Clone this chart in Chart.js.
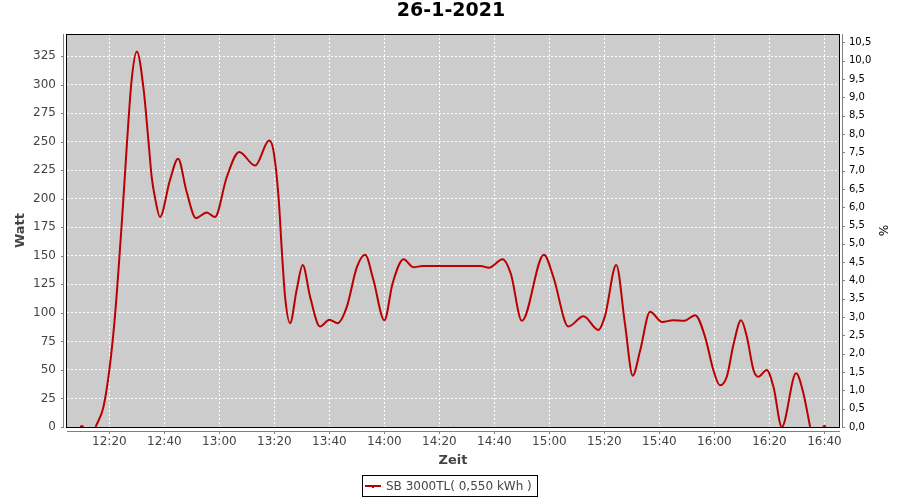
<!DOCTYPE html>
<html>
<head>
<meta charset="utf-8">
<script src="https://cdn.jsdelivr.net/npm/chart.js@4.4.1/dist/chart.umd.min.js"></script>
<style>
  html, body { margin: 0; padding: 0; background: #fff; }
  #wrap { width: 900px; height: 500px; }
</style>
</head>
<body>
<div id="wrap"><canvas id="chart" width="900" height="500"></canvas></div>
<script>
let title = '26-1-2021'
let seriesLabel = 'SB 3000TL( 0,550 kWh )'

// minutes after 12:00
let times = [10, 12.5, 15, 17.8, 20, 22, 25, 26.3, 28.1, 30, 32.4, 34.2, 35.4, 36.6, 38.4, 42, 45, 48, 51.5, 55.4, 58.4,
    62.7, 67.2, 73, 78.1, 79.6, 81.5, 82.7, 83.9, 85.7, 88.1, 90.3, 93, 96.6, 100, 103, 106.3, 110, 113, 116, 120,
    123, 127, 130.5, 134, 145, 155, 158, 163, 166, 170, 178, 181.5, 186.9, 192.4, 197.8, 200.3, 204.3, 207.5, 210.3, 213,
    216.6, 221, 225, 229, 233, 236.6, 239.6, 242, 244.5, 247, 249.7, 251.8, 254.2, 256, 259, 261.5, 264.5, 269.7, 272.4, 274.8,
    277.5, 280]
let watts = [0, null, 0, 17, 50, 96, 196, 245, 304, 329, 297, 251, 219, 201, 184, 216, 235, 207, 183, 188, 184,
    219, 241, 229, 251, 243, 202, 155, 114, 91, 120, 142, 114, 88, 94, 91, 105, 140, 151, 129, 93.5,
    126, 147, 140, 141, 141, 141, 139.5, 147, 134, 93, 151, 131, 88, 97, 85, 98, 142, 90, 45, 67,
    101, 92, 93.5, 93, 98, 79, 50, 36.5, 44, 73, 93.5, 79, 50, 44, 50, 35, 0, 47, 29, 0,
    null, 0]

let wattTicks = [0, 25, 50, 75, 100, 125, 150, 175, 200, 225, 250, 275, 300, 325]
let percentTicks = [0, 0.5, 1, 1.5, 2, 2.5, 3, 3.5, 4, 4.5, 5, 5.5, 6, 6.5, 7, 7.5, 8, 8.5, 9, 9.5, 10, 10.5]
let timeTicks = [20, 40, 60, 80, 100, 120, 140, 160, 180, 200, 220, 240, 260, 280]

let font = 'DejaVu Sans'
let lineColor = '#bb0000'

function timeLabel(m) {
    let h = 12 + Math.floor(m / 60)
    let mm = Math.round(m % 60)
    return h + ':' + (mm < 10 ? '0' + mm : mm)
}

function setTicks(list) {
    return scale => { scale.ticks = list.map(v => ({ value: v })) }
}

let plotDecor = {
    id: 'plotDecor',
    beforeDatasetsDraw(chart) {
        let { ctx, chartArea: a } = chart
        ctx.save()
        ctx.fillStyle = '#cccccc'
        ctx.fillRect(a.left, a.top, a.right - a.left, a.bottom - a.top)
        ctx.restore()
        // redraw grid over background
        chart.scales.x.drawGrid(a)
        chart.scales.y.drawGrid(a)
    },
    afterDatasetsDraw(chart) {
        let { ctx, chartArea: a } = chart
        ctx.save()
        ctx.strokeStyle = '#000'
        ctx.lineWidth = 1
        ctx.strokeRect(a.left - 0.5, a.top + 0.5, a.right - a.left + 1, a.bottom - a.top)

        // axis lines, set off from the plot like the original
        ctx.strokeStyle = '#808080'
        ctx.beginPath()
        ctx.moveTo(a.left - 3.5, a.top)
        ctx.lineTo(a.left - 3.5, a.bottom + 1)
        ctx.moveTo(a.right + 3.5, a.top)
        ctx.lineTo(a.right + 3.5, a.bottom + 1)
        ctx.moveTo(a.left, a.bottom + 4.5)
        ctx.lineTo(a.right + 1, a.bottom + 4.5)
        for (let v of wattTicks) {
            let y = Math.round(chart.scales.y.getPixelForValue(v)) + 0.5
            ctx.moveTo(a.left - 6, y)
            ctx.lineTo(a.left - 3.5, y)
        }
        for (let v of percentTicks) {
            let y = Math.round(chart.scales.y2.getPixelForValue(v)) + 0.5
            ctx.moveTo(a.right + 3.5, y)
            ctx.lineTo(a.right + 6, y)
        }
        for (let v of timeTicks) {
            let x = Math.round(chart.scales.x.getPixelForValue(v)) + 0.5
            ctx.moveTo(x, a.bottom + 4.5)
            ctx.lineTo(x, a.bottom + 7)
        }
        ctx.stroke()

        // title
        ctx.fillStyle = '#000'
        ctx.font = 'bold 19px "' + font + '"'
        ctx.textAlign = 'center'
        ctx.textBaseline = 'middle'
        ctx.fillText(title, 451, 11)

        // legend
        ctx.strokeStyle = '#000'
        ctx.strokeRect(362.5, 475.5, 175, 21)
        ctx.strokeStyle = lineColor
        ctx.lineWidth = 2
        ctx.beginPath()
        ctx.moveTo(365, 486)
        ctx.lineTo(381, 486)
        ctx.moveTo(373, 486)
        ctx.lineTo(373, 488)
        ctx.stroke()
        ctx.fillStyle = '#444'
        ctx.font = '12px "' + font + '"'
        ctx.textAlign = 'left'
        ctx.fillText(seriesLabel, 386, 486.5)
        ctx.restore()
    }
}

let gridStyle = {
    color: '#ffffff',
    lineWidth: 1,
    drawTicks: false,
    drawOnChartArea: true
}

let chart = new Chart(document.getElementById('chart'), {
    type: 'line',
    data: {
        datasets: [{
            label: seriesLabel,
            data: times.map((t, i) => ({ x: t, y: watts[i] })),
            borderColor: lineColor,
            backgroundColor: lineColor,
            borderWidth: 2,
            cubicInterpolationMode: 'monotone',
            spanGaps: false,
            pointRadius: ctx => (ctx.dataIndex === 0 || ctx.dataIndex === times.length - 1) ? 1 : 0,
            pointHoverRadius: 0,
            yAxisID: 'y'
        }]
    },
    options: {
        responsive: false,
        animation: false,
        events: [],
        layout: { padding: { top: 34, left: 0, right: 0, bottom: 0 } },
        plugins: {
            legend: { display: false },
            title: { display: false },
            tooltip: { enabled: false }
        },
        scales: {
            x: {
                type: 'linear',
                min: 4.6,
                max: 285.3,
                afterBuildTicks: setTicks(timeTicks),
                afterFit: s => { s.height = 73 },
                grid: Object.assign({}, gridStyle),
                border: { display: false, dash: [2, 2] },
                ticks: {
                    autoSkip: false,
                    maxRotation: 0,
                    padding: 8,
                    color: '#444',
                    font: { family: font, size: 12 },
                    callback: v => timeLabel(v)
                },
                title: {
                    display: true,
                    text: 'Zeit',
                    color: '#444',
                    font: { family: font, size: 13, weight: 'bold' },
                    padding: { top: 0, bottom: 32 }
                }
            },
            y: {
                position: 'left',
                min: 0,
                max: 344.3,
                afterBuildTicks: setTicks(wattTicks),
                afterFit: s => { s.width = 67 },
                grid: Object.assign({}, gridStyle),
                border: { display: false, dash: [2, 2] },
                ticks: {
                    padding: 11,
                    color: '#444',
                    font: { family: font, size: 12 }
                },
                title: {
                    display: true,
                    text: 'Watt',
                    color: '#444',
                    font: { family: font, size: 13, weight: 'bold' },
                    padding: { top: 12.7, bottom: 0 }
                }
            },
            y2: {
                position: 'right',
                min: 0,
                max: 10.73,
                afterBuildTicks: setTicks(percentTicks),
                afterFit: s => { s.width = 61 },
                grid: { display: false, drawTicks: false },
                border: { display: false },
                ticks: {
                    padding: 10,
                    color: '#000',
                    font: { family: font, size: 10 },
                    callback: v => v.toFixed(1).replace('.', ',')
                },
                title: {
                    display: true,
                    text: '%',
                    color: '#000',
                    font: { family: font, size: 12 },
                    padding: { top: 10.3, bottom: 0 }
                }
            }
        }
    },
    plugins: [plotDecor]
})
</script>
</body>
</html>
